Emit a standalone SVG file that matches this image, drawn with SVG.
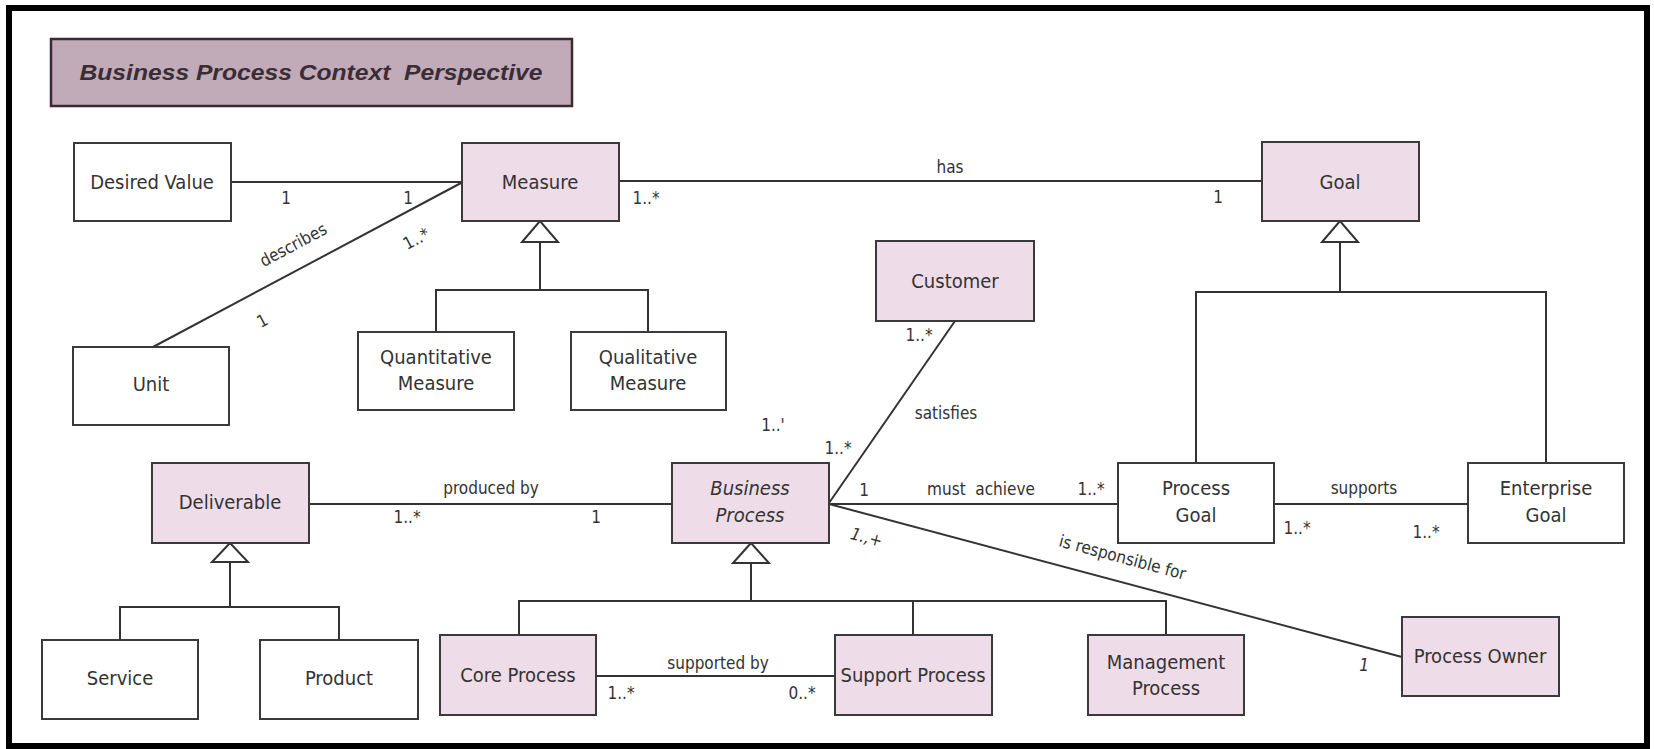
<svg xmlns="http://www.w3.org/2000/svg" width="1654" height="749" viewBox="0 0 1654 749">
<style>
.n{stroke:#3a3a3a;stroke-width:2}
.w{fill:#ffffff}
.p{fill:#efdce9}
.t{font-family:'DejaVu Sans Condensed','DejaVu Sans',sans-serif;font-stretch:condensed;font-size:20px;fill:#333;text-anchor:middle}
.i{font-style:italic}
.l{font-family:'DejaVu Sans Condensed','DejaVu Sans',sans-serif;font-stretch:condensed;font-size:17px;fill:#333;text-anchor:middle}
.c line,.c polyline{stroke:#333;stroke-width:2;fill:none}
.c polygon{fill:#fff;stroke:#333;stroke-width:2}
</style>
<rect x="0" y="0" width="1654" height="749" fill="#fff"/>
<rect x="9" y="8" width="1638" height="738" fill="#fff" stroke="#000" stroke-width="6"/>
<g id="title">
<rect x="51" y="39" width="521" height="67" fill="#c1abb8" stroke="#3b2a35" stroke-width="2.5"/>
<text x="311" y="80" xml:space="preserve" font-family="'Liberation Sans',Arial,sans-serif" font-weight="bold" font-style="italic" font-size="22" fill="#3a2d36" text-anchor="middle" textLength="463" lengthAdjust="spacingAndGlyphs">Business Process Context  Perspective</text>
</g>
<g id="connectors" class="c">
<line x1="231" y1="182" x2="462" y2="182"/>
<line x1="619" y1="181" x2="1262" y2="181"/>
<line x1="461" y1="183" x2="153" y2="347"/>
<line x1="540" y1="242" x2="540" y2="290"/>
<polyline points="436,332 436,290 648,290 648,332"/>
<polygon points="540,221 522,242 558,242"/>
<line x1="1340" y1="242" x2="1340" y2="292"/>
<polyline points="1196,463 1196,292 1546,292 1546,463"/>
<polygon points="1340,221 1322,242 1358,242"/>
<line x1="955" y1="321" x2="829" y2="503"/>
<line x1="309" y1="504" x2="672" y2="504"/>
<line x1="829" y1="504" x2="1118" y2="504"/>
<line x1="1274" y1="504" x2="1468" y2="504"/>
<line x1="829" y1="504" x2="1402" y2="657"/>
<line x1="230" y1="562" x2="230" y2="607"/>
<polyline points="120,640 120,607 339,607 339,640"/>
<polygon points="230,543 212,562 248,562"/>
<line x1="751" y1="563" x2="751" y2="601"/>
<polyline points="519,635 519,601 1166,601 1166,635"/>
<line x1="913" y1="601" x2="913" y2="635"/>
<polygon points="751,543 733,563 769,563"/>
<line x1="596" y1="676" x2="835" y2="676"/>
</g>
<g id="labels">
<text class="l" x="286" y="204">1</text>
<text class="l" x="408" y="204">1</text>
<text class="l" transform="translate(296,250) rotate(-28)">describes</text>
<text class="l" transform="translate(419,244) rotate(-28)">1..*</text>
<text class="l" transform="translate(265,326) rotate(-28)">1</text>
<text class="l" x="950" y="173">has</text>
<text class="l" x="646" y="204">1..*</text>
<text class="l" x="1218" y="203">1</text>
<text class="l" x="919" y="341">1..*</text>
<text class="l" x="946" y="419">satisfies</text>
<text class="l" x="773" y="431">1..'</text>
<text class="l" x="838" y="454">1..*</text>
<text class="l" x="491" y="494">produced by</text>
<text class="l" x="407" y="523">1..*</text>
<text class="l" x="596" y="523">1</text>
<text class="l" x="864" y="496">1</text>
<text class="l" x="981" y="495" xml:space="preserve">must  achieve</text>
<text class="l" x="1091" y="495">1..*</text>
<text class="l" x="1364" y="494">supports</text>
<text class="l" x="1297" y="534">1..*</text>
<text class="l" x="1426" y="538">1..*</text>
<text class="l i" transform="translate(865,543) rotate(15)">1.,+</text>
<text class="l" transform="translate(1121,563) rotate(15)">is responsible for</text>
<text class="l i" x="1364" y="671">1</text>
<text class="l" x="718" y="669">supported by</text>
<text class="l" x="621" y="699">1..*</text>
<text class="l" x="802" y="699">0..*</text>
</g>
<g id="desired-value"><rect class="n w" x="74" y="143" width="157" height="78"/><text class="t" x="152" y="189">Desired Value</text></g>
<g id="measure"><rect class="n p" x="462" y="143" width="157" height="78"/><text class="t" x="540" y="189">Measure</text></g>
<g id="goal"><rect class="n p" x="1262" y="142" width="157" height="79"/><text class="t" x="1340" y="189">Goal</text></g>
<g id="customer"><rect class="n p" x="876" y="241" width="158" height="80"/><text class="t" x="955" y="288">Customer</text></g>
<g id="unit"><rect class="n w" x="73" y="347" width="156" height="78"/><text class="t" x="151" y="391">Unit</text></g>
<g id="quantitative-measure"><rect class="n w" x="358" y="332" width="156" height="78"/><text class="t" x="436" y="364">Quantitative</text><text class="t" x="436" y="390">Measure</text></g>
<g id="qualitative-measure"><rect class="n w" x="571" y="332" width="155" height="78"/><text class="t" x="648" y="364">Qualitative</text><text class="t" x="648" y="390">Measure</text></g>
<g id="deliverable"><rect class="n p" x="152" y="463" width="157" height="80"/><text class="t" x="230" y="509">Deliverable</text></g>
<g id="business-process"><rect class="n p" x="672" y="463" width="157" height="80"/><text class="t i" x="750" y="495">Business</text><text class="t i" x="750" y="522">Process</text></g>
<g id="process-goal"><rect class="n w" x="1118" y="463" width="156" height="80"/><text class="t" x="1196" y="495">Process</text><text class="t" x="1196" y="522">Goal</text></g>
<g id="enterprise-goal"><rect class="n w" x="1468" y="463" width="156" height="80"/><text class="t" x="1546" y="495">Enterprise</text><text class="t" x="1546" y="522">Goal</text></g>
<g id="service"><rect class="n w" x="42" y="640" width="156" height="79"/><text class="t" x="120" y="685">Service</text></g>
<g id="product"><rect class="n w" x="260" y="640" width="158" height="79"/><text class="t" x="339" y="685">Product</text></g>
<g id="core-process"><rect class="n p" x="440" y="635" width="156" height="80"/><text class="t" x="518" y="682">Core Process</text></g>
<g id="support-process"><rect class="n p" x="835" y="635" width="157" height="80"/><text class="t" x="913" y="682">Support Process</text></g>
<g id="management-process"><rect class="n p" x="1088" y="635" width="156" height="80"/><text class="t" x="1166" y="669">Management</text><text class="t" x="1166" y="695">Process</text></g>
<g id="process-owner"><rect class="n p" x="1402" y="617" width="157" height="79"/><text class="t" x="1480" y="663">Process Owner</text></g>
</svg>
